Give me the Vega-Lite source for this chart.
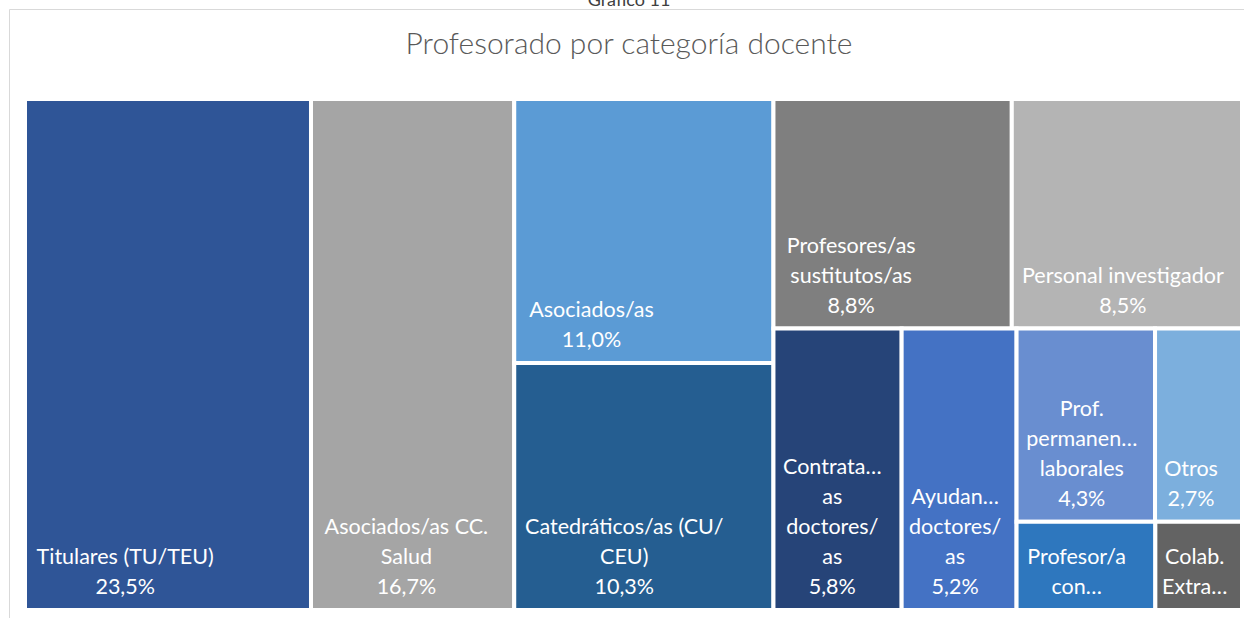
{
  "$schema": "https://vega.github.io/schema/vega-lite/v6.json",
  "usermeta": {"embedOptions": {"actions": false}},
  "width": 1240,
  "height": 614,
  "autosize": {"type": "none"},
  "padding": {"left": 9, "top": 9, "right": -5, "bottom": -5},
  "background": "white",
  "config": {"view": {"stroke": "#d9d9d9", "strokeWidth": 1}, "font": "Lato"},
  "title": {
    "text": "Gráfico 11",
    "subtitle": "Profesorado por categoría docente",
    "anchor": "middle",
    "frame": "group",
    "offset": -51,
    "font": "Lato",
    "fontSize": 18,
    "fontWeight": "normal",
    "color": "#404040",
    "subtitleFont": "Lato",
    "subtitleFontSize": 30,
    "subtitleFontWeight": 300,
    "subtitleColor": "#595959",
    "subtitlePadding": 20
  },
  "data": {
    "values": [
      {"ord": 1, "name": "Titulares (TU/TEU)", "value": 23.5, "g1": 1, "g2": 1, "g3": 1, "g4": 1, "text": "Titulares (TU/TEU)\n23,5%"},
      {"ord": 2, "name": "Asociados/as CC. Salud", "value": 16.7, "g1": 2, "g2": 1, "g3": 1, "g4": 1, "text": "Asociados/as CC.\nSalud\n16,7%"},
      {"ord": 3, "name": "Asociados/as", "value": 11.0, "g1": 3, "g2": 1, "g3": 1, "g4": 1, "text": "Asociados/as\n11,0%"},
      {"ord": 4, "name": "Catedráticos/as (CU/CEU)", "value": 10.3, "g1": 3, "g2": 2, "g3": 1, "g4": 1, "text": "Catedráticos/as (CU/\nCEU)\n10,3%"},
      {"ord": 5, "name": "Profesores/as sustitutos/as", "value": 8.8, "g1": 4, "g2": 1, "g3": 1, "g4": 1, "text": "Profesores/as\nsustitutos/as\n8,8%"},
      {"ord": 6, "name": "Personal investigador", "value": 8.5, "g1": 4, "g2": 1, "g3": 2, "g4": 1, "text": "Personal investigador\n8,5%"},
      {"ord": 7, "name": "Contratados/as doctores/as", "value": 5.8, "g1": 4, "g2": 2, "g3": 1, "g4": 1, "text": "Contrata…\nas\ndoctores/\nas\n5,8%"},
      {"ord": 8, "name": "Ayudantes doctores/as", "value": 5.2, "g1": 4, "g2": 2, "g3": 2, "g4": 1, "text": "Ayudan…\ndoctores/\nas\n5,2%"},
      {"ord": 9, "name": "Prof. permanentes laborales", "value": 4.3, "g1": 4, "g2": 2, "g3": 3, "g4": 1, "text": "Prof.\npermanen…\nlaborales\n4,3%"},
      {"ord": 10, "name": "Otros", "value": 2.7, "g1": 4, "g2": 2, "g3": 3, "g4": 1, "text": "Otros\n2,7%"},
      {"ord": 11, "name": "Profesor/a contratado/a", "value": 1.97, "g1": 4, "g2": 2, "g3": 3, "g4": 2, "text": "Profesor/a\ncon…"},
      {"ord": 12, "name": "Colab. Extraordinarios/as", "value": 1.23, "g1": 4, "g2": 2, "g3": 3, "g4": 2, "text": "Colab.\nExtra…"}
    ]
  },
  "transform": [
    {"window": [{"op": "sum", "field": "value", "as": "c1"}], "sort": [{"field": "ord"}], "frame": [null, 0]},
    {"joinaggregate": [{"op": "sum", "field": "value", "as": "T"}]},
    {"calculate": "datum.c1 - datum.value", "as": "p1"},
    {"joinaggregate": [{"op": "min", "field": "p1", "as": "a1"}, {"op": "sum", "field": "value", "as": "S1"}], "groupby": ["g1"]},
    {"calculate": "datum.a1 / datum.T", "as": "X1a"},
    {"calculate": "(datum.a1 + datum.S1) / datum.T", "as": "X1b"},
    {"window": [{"op": "sum", "field": "value", "as": "c2"}], "groupby": ["g1"], "sort": [{"field": "ord"}], "frame": [null, 0]},
    {"calculate": "datum.c2 - datum.value", "as": "p2"},
    {"joinaggregate": [{"op": "min", "field": "p2", "as": "a2"}, {"op": "sum", "field": "value", "as": "S2"}], "groupby": ["g1", "g2"]},
    {"calculate": "datum.a2 / datum.S1", "as": "Y2a"},
    {"calculate": "(datum.a2 + datum.S2) / datum.S1", "as": "Y2b"},
    {"window": [{"op": "sum", "field": "value", "as": "c3"}], "groupby": ["g1", "g2"], "sort": [{"field": "ord"}], "frame": [null, 0]},
    {"calculate": "datum.c3 - datum.value", "as": "p3"},
    {"joinaggregate": [{"op": "min", "field": "p3", "as": "a3"}, {"op": "sum", "field": "value", "as": "S3"}], "groupby": ["g1", "g2", "g3"]},
    {"calculate": "datum.X1a + (datum.X1b - datum.X1a) * datum.a3 / datum.S2", "as": "X3a"},
    {"calculate": "datum.X1a + (datum.X1b - datum.X1a) * (datum.a3 + datum.S3) / datum.S2", "as": "X3b"},
    {"window": [{"op": "sum", "field": "value", "as": "c4"}], "groupby": ["g1", "g2", "g3"], "sort": [{"field": "ord"}], "frame": [null, 0]},
    {"calculate": "datum.c4 - datum.value", "as": "p4"},
    {"joinaggregate": [{"op": "min", "field": "p4", "as": "a4"}, {"op": "sum", "field": "value", "as": "S4"}], "groupby": ["g1", "g2", "g3", "g4"]},
    {"calculate": "datum.Y2a + (datum.Y2b - datum.Y2a) * datum.a4 / datum.S3", "as": "y0"},
    {"calculate": "datum.Y2a + (datum.Y2b - datum.Y2a) * (datum.a4 + datum.S4) / datum.S3", "as": "y1"},
    {"window": [{"op": "sum", "field": "value", "as": "c5"}], "groupby": ["g1", "g2", "g3", "g4"], "sort": [{"field": "ord"}], "frame": [null, 0]},
    {"calculate": "datum.c5 - datum.value", "as": "p5"},
    {"calculate": "datum.X3a + (datum.X3b - datum.X3a) * datum.p5 / datum.S4", "as": "x0"},
    {"calculate": "datum.X3a + (datum.X3b - datum.X3a) * (datum.p5 + datum.value) / datum.S4", "as": "x1"}
  ],
  "layer": [
    {
      "mark": {"type": "rect", "stroke": "white", "strokeWidth": 4},
      "encoding": {
        "x": {"field": "x0", "type": "quantitative", "scale": {"domain": [0, 1], "range": [16, 1233]}, "axis": null},
        "x2": {"field": "x1"},
        "y": {"field": "y0", "type": "quantitative", "scale": {"domain": [0, 1], "range": [90, 601]}, "axis": null},
        "y2": {"field": "y1"},
        "color": {
          "field": "name",
          "type": "nominal",
          "legend": null,
          "scale": {
            "domain": ["Titulares (TU/TEU)", "Asociados/as CC. Salud", "Asociados/as", "Catedráticos/as (CU/CEU)", "Profesores/as sustitutos/as", "Personal investigador", "Contratados/as doctores/as", "Ayudantes doctores/as", "Prof. permanentes laborales", "Otros", "Profesor/a contratado/a", "Colab. Extraordinarios/as"],
            "range": ["#2F5597", "#A5A5A5", "#5B9BD5", "#255E91", "#7F7F7F", "#B4B4B4", "#264478", "#4472C4", "#698ED0", "#7CAFDD", "#2E77BE", "#636363"]
          }
        }
      }
    },
    {
      "transform": [
        {"calculate": "split(datum.text, '\\n')", "as": "L"},
        {"calculate": "length(datum.L)", "as": "n"},
        {"flatten": ["L"], "as": ["line"]},
        {"calculate": "11.8*length(datum.line) - 5.5*(length(datum.line) - length(replace(datum.line, regexp('[iltfjrI.,/() ]', 'g'), ''))) + 4*(length(datum.line) - length(replace(datum.line, regexp('[mwMWU…%]', 'g'), '')))", "as": "w"},
        {"joinaggregate": [{"op": "max", "field": "w", "as": "bw"}], "groupby": ["name"]},
        {"window": [{"op": "row_number", "as": "li"}], "groupby": ["name"]},
        {"filter": "datum.li == 1"},
        {"calculate": "datum.x0 + (12 + min(datum.bw, (datum.x1 - datum.x0) * 1217 - 32) / 2) / 1217", "as": "cx"},
        {"calculate": "datum.y1 - (16 + (datum.n - 1) * 30) / 511", "as": "yb"}
      ],
      "mark": {"type": "text", "align": "center", "baseline": "alphabetic", "lineBreak": "\n", "lineHeight": 30, "fontSize": 21.5, "color": "white", "font": "Lato"},
      "encoding": {
        "x": {"field": "cx", "type": "quantitative", "scale": {"domain": [0, 1], "range": [16, 1233]}, "axis": null},
        "y": {"field": "yb", "type": "quantitative", "scale": {"domain": [0, 1], "range": [90, 601]}, "axis": null},
        "text": {"field": "text", "type": "nominal"}
      }
    }
  ]
}
